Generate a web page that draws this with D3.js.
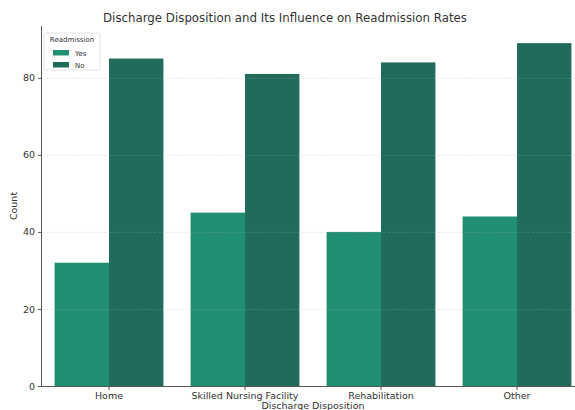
<!DOCTYPE html>
<html>
<head>
<meta charset="utf-8">
<script src="https://cdn.jsdelivr.net/npm/d3@7"></script>
<style>
  html, body { margin: 0; padding: 0; background: #fff; overflow: hidden; }
  svg { display: block; font-family: "DejaVu Sans", sans-serif; }
</style>
</head>
<body>
<svg id="chart" width="575" height="410"></svg>
<script>
// Readmission counts by discharge disposition
const categories = ["Home", "Skilled Nursing Facility", "Rehabilitation", "Other"];
const seriesNames = ["Yes", "No"];
const yesCounts = [32, 45, 40, 44];
const noCounts = [85, 81, 84, 89];
const yTicks = [0, 20, 40, 60, 80];
const colors = ["#218f72", "#216b5b"];

const rows = categories.map((c, i) => ({ category: c, Yes: yesCounts[i], No: noCounts[i] }));

const svg = d3.select("#chart");
const left = 41;
const plotRight = 585;   // the axes run slightly past the right edge of the page
const yTop = 26, yBottom = 386;

const x = d3.scaleBand().domain(categories).range([left, plotRight]).paddingInner(0.2).paddingOuter(0.1);
const xInner = d3.scaleBand().domain(seriesNames).range([0, x.bandwidth()]);
const yMax = d3.max(noCounts.concat(yesCounts)) * 1.05;
const y = d3.scaleLinear().domain([0, yMax]).range([yBottom, yTop]);

// bars
svg.append("g").selectAll("g.cat").data(rows).join("g")
  .attr("class", "cat")
  .attr("transform", d => `translate(${x(d.category)},0)`)
  .selectAll("rect")
  .data(d => seriesNames.map((s, k) => ({ s, k, v: d[s] })))
  .join("rect")
  .attr("x", d => xInner(d.s))
  .attr("width", xInner.bandwidth())
  .attr("y", d => y(d.v))
  .attr("height", d => y(0) - y(d.v))
  .attr("fill", d => colors[d.k]);

// horizontal grid drawn over bars, faint and dashed
svg.append("g").selectAll("line").data(yTicks.filter(t => t > 0)).join("line")
  .attr("x1", left).attr("x2", plotRight)
  .attr("y1", d => y(d) + 0.5).attr("y2", d => y(d) + 0.5)
  .attr("stroke", "#b0b0b0").attr("stroke-opacity", 0.3)
  .attr("stroke-width", 0.8).attr("stroke-dasharray", "3,1.5");

// y axis
const yAxis = d3.axisLeft(y).tickValues(yTicks).tickSize(3.5).tickPadding(3);
const ya = svg.append("g").attr("transform", `translate(${left + 0.5},0)`).call(yAxis);
ya.select(".domain").attr("stroke", "#555").attr("stroke-width", 1).attr("d", `M0,${yBottom}V${yTop}`);
ya.selectAll(".tick line").attr("stroke", "#555");
ya.selectAll(".tick text").attr("font-size", 9.5).attr("fill", "#333").attr("font-family", "DejaVu Sans");

// x axis
const xAxis = d3.axisBottom(x).tickSize(3.5).tickPadding(2);
const xa = svg.append("g").attr("transform", `translate(0,${yBottom + 0.5})`).call(xAxis);
xa.select(".domain").attr("stroke", "#555").attr("stroke-width", 1).attr("d", `M${left},0H${plotRight}`);
xa.selectAll(".tick line").attr("stroke", "#555");
xa.selectAll(".tick text").attr("font-size", 9.5).attr("fill", "#333").attr("font-family", "DejaVu Sans");

// axis labels
svg.append("text").attr("x", (left + plotRight) / 2).attr("y", 409)
  .attr("text-anchor", "middle").attr("font-size", 9.5).attr("fill", "#333").text("Discharge Disposition");
svg.append("text").attr("transform", `translate(17,${(yTop + yBottom) / 2}) rotate(-90)`)
  .attr("text-anchor", "middle").attr("font-size", 9.5).attr("fill", "#333").text("Count");

// title
svg.append("text").attr("x", 285).attr("y", 22)
  .attr("text-anchor", "middle").attr("font-size", 11.8).attr("fill", "#333")
  .text("Discharge Disposition and Its Influence on Readmission Rates");

// legend
const lg = svg.append("g").attr("transform", "translate(44,33)");
lg.append("rect").attr("width", 56).attr("height", 37).attr("rx", 2)
  .attr("fill", "#fff").attr("fill-opacity", 0.8).attr("stroke", "#ddd").attr("stroke-width", 0.8);
lg.append("text").attr("x", 28).attr("y", 9).attr("text-anchor", "middle")
  .attr("font-size", 7).attr("fill", "#333").text("Readmission");
seriesNames.forEach((s, k) => {
  const row = lg.append("g").attr("transform", `translate(9,${17 + k * 12})`);
  row.append("rect").attr("width", 16).attr("height", 5.5).attr("fill", colors[k]);
  row.append("text").attr("x", 22).attr("y", 5.5).attr("font-size", 7).attr("fill", "#333").text(s);
});
</script>
</body>
</html>
